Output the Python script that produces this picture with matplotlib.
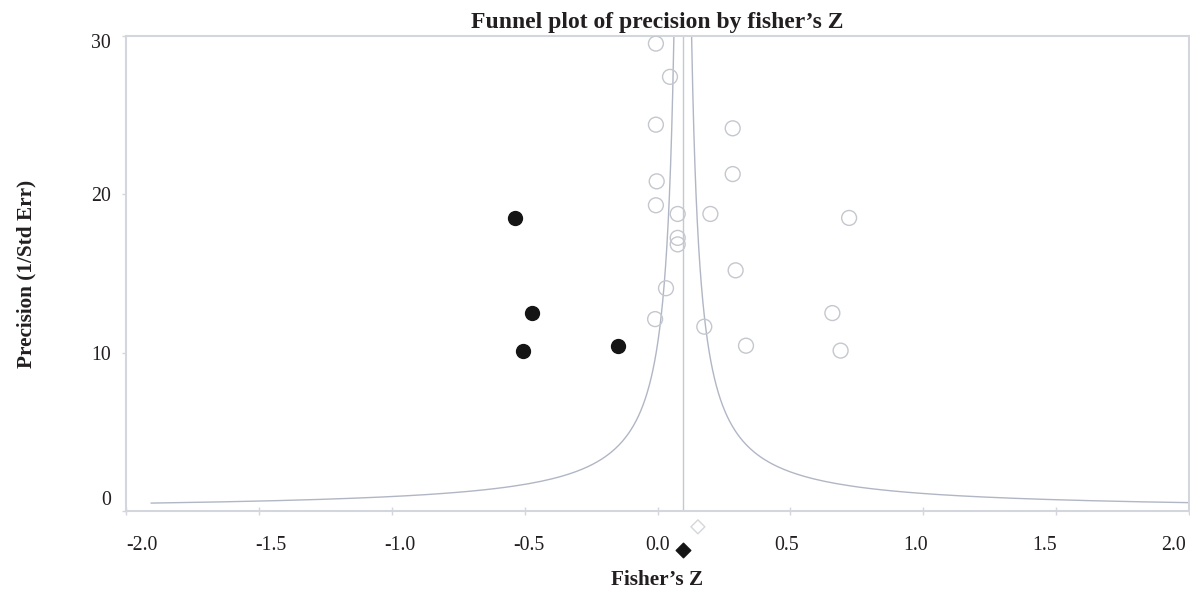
import numpy as np
import matplotlib
matplotlib.use("Agg")
import matplotlib.pyplot as plt
from matplotlib.transforms import ScaledTranslation

plt.rcParams['font.family'] = ['Liberation Serif', 'DejaVu Serif']

# observed studies (open circles)
obs_z = [-0.006, 0.047, -0.006, 0.283, -0.003, 0.283, -0.006, 0.076, 0.199, 0.076,
         0.076, 0.294, 0.032, -0.009, 0.176, 0.333, 0.721, 0.658, 0.689]
obs_prec = [29.52, 27.42, 24.40, 24.17, 20.82, 21.28, 19.31, 18.76, 18.76, 17.25,
            16.84, 15.20, 14.07, 12.12, 11.64, 10.44, 18.51, 12.50, 10.13]

# imputed studies (trim and fill, filled circles)
imp_z = [-0.536, -0.473, -0.505, -0.150]
imp_prec = [18.51, 12.50, 10.13, 10.44]

# summary estimates
observed_mean = 0.152
adjusted_mean = 0.095
funnel_width = 1.0      # half-width of funnel at precision 1

x_ticks = [-2.0, -1.5, -1.0, -0.5, 0.0, 0.5, 1.0, 1.5, 2.0]
y_ticks = [0, 10, 20, 30]

LINE = '#b0b6c4'
SPINE = '#d3d6dd'
TEXT = '#231f20'

fig = plt.figure(figsize=(11.9, 5.89), dpi=100)
ax = fig.add_axes([126 / 1190, 1 - 511 / 589, (1189 - 126) / 1190, (511 - 36) / 589])

# funnel lines around adjusted mean
prec = np.linspace(0.5, 31, 400)
ax.plot(adjusted_mean - funnel_width / prec, prec, color=LINE, lw=1.0)
ax.plot(adjusted_mean + funnel_width / prec, prec, color=LINE, lw=1.0)
ax.axvline(adjusted_mean, color='#c3c8d4', lw=1.0)

ax.scatter(obs_z, obs_prec, s=115, facecolors='none', edgecolors='#c4c7ce',
           linewidths=1.0, zorder=3)
ax.scatter(imp_z, imp_prec, s=100, color='#151515', zorder=4)

# summary diamonds below the axis
ax.scatter([observed_mean], [-1.0], marker='D', s=50, facecolors='none',
           edgecolors='#d4d6dc', linewidths=1.0, clip_on=False, zorder=5)
ax.scatter([adjusted_mean], [-2.45], marker='D', s=55, color='#151515',
           clip_on=False, zorder=5)

ax.set_xlim(-2.0, 2.0)
ax.set_ylim(0, 29.9)
ax.set_xticks(x_ticks)
ax.set_xticklabels([f'{t:.1f}' for t in x_ticks])
ax.set_yticks(y_ticks)
ax.set_yticklabels([str(t) for t in y_ticks])

for s in ax.spines.values():
    s.set_color(SPINE)
    s.set_linewidth(1.5)
ax.tick_params(axis='x', direction='inout', length=6, width=1, color=SPINE,
               labelsize=14.3, labelcolor=TEXT, pad=15)
ax.tick_params(axis='y', direction='out', length=3, width=1, color=SPINE,
               labelsize=14.3, labelcolor=TEXT, pad=8)

# tick labels sit slightly pulled towards the centre in the original
for t, lab in zip(x_ticks, ax.get_xticklabels()):
    lab.set_transform(lab.get_transform() + ScaledTranslation(-8.0 * t / 100, 0, fig.dpi_scale_trans))
y_shift = {0: 13, 30: -5}
for t, lab in zip(y_ticks, ax.get_yticklabels()):
    dy = y_shift.get(t, 0)
    lab.set_transform(lab.get_transform() + ScaledTranslation(0, dy / 100, fig.dpi_scale_trans))

ax.set_title('Funnel plot of precision by fisher\u2019s Z', fontsize=17,
             fontweight='bold', color=TEXT, pad=6)
ax.set_xlabel('Fisher\u2019s Z', fontsize=15.3, fontweight='bold', color=TEXT,
              labelpad=11)
ax.set_ylabel('Precision (1/Std Err)', fontsize=15.3, fontweight='bold', color=TEXT,
              labelpad=39)

fig.savefig('out.png', dpi=100)
